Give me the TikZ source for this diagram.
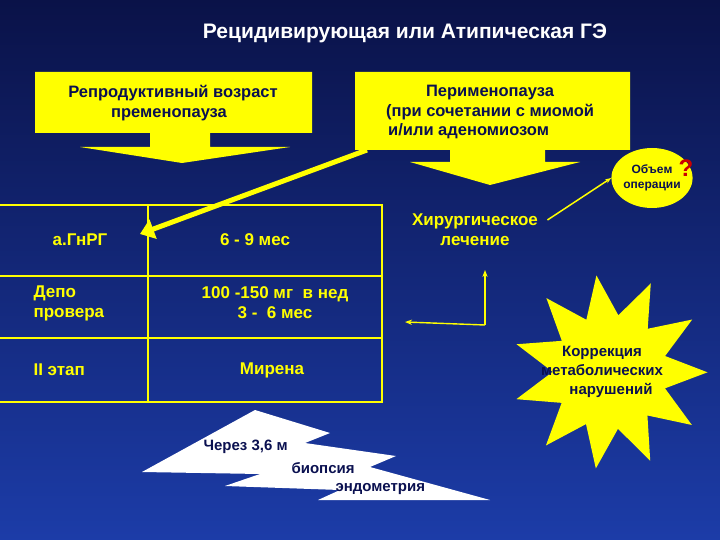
\documentclass[tikz,border=0pt]{standalone}
\usepackage{fontspec}
\setmainfont{Liberation Sans}
\usetikzlibrary{shapes.misc,shapes.geometric,arrows.meta}
\definecolor{ylw}{HTML}{FFFF00}
\definecolor{navy}{HTML}{0A1050}
\definecolor{bgtop}{HTML}{0A1248}
\definecolor{bgbot}{HTML}{1C3CA8}
\tikzset{
  yt/.style={text=ylw,font=\fontsize{17}{20}\selectfont\bfseries,align=center},
  yl/.style={text=ylw,font=\fontsize{17}{20}\selectfont\bfseries,align=left,anchor=west},
  dt/.style={text=navy,font=\fontsize{16.5}{19.5}\selectfont\bfseries,align=center},
  grid/.style={draw=ylw,line width=1.6pt},
  callout/.style={fill=ylw,draw=none}
}
\begin{document}
\begin{tikzpicture}[x=1pt,y=-1pt]
\useasboundingbox (0,0) rectangle (720,540);
\shade[top color=bgtop,bottom color=bgbot] (0,0) rectangle (720,540);
\node[text=white,font=\fontsize{21}{24}\selectfont\bfseries] (title) at (405,33) {Рецидивирующая или Атипическая ГЭ};
% left callout
\fill[callout] (35,72) -- (312,72) -- (312,133) -- (210,133) -- (210,147) -- (290,147) -- (182,163) -- (80,147) -- (150,147) -- (150,133) -- (35,133) -- cycle;
\node[dt,align=left] (repro) at (173,103) {Репродуктивный возраст\\\hspace*{2.6em}пременопауза};
% right callout
\fill[callout] (355,72) -- (630,72) -- (630,150) -- (545,150) -- (545,162) -- (580,162) -- (490,185) -- (410,162) -- (450,162) -- (450,150) -- (355,150) -- cycle;
\node[dt] (peri) at (490,112) {Перименопауза\\(при сочетании с миомой\\\hspace*{-2.6em}и/или аденомиозом};
% ellipse
\node[ellipse,fill=ylw,minimum width=78pt,minimum height=60pt,inner sep=0pt,
  text=navy,font=\fontsize{12}{15}\selectfont\bfseries,align=center] (obj) at (652,178) {Объем\\операции};
\node[text=red!80!black,font=\fontsize{24}{24}\selectfont\bfseries] (q) at (686,168) {?};
% table
\coordinate (t1) at (0,205); \coordinate (t1r) at (382,205);
\coordinate (t2) at (0,276); \coordinate (t2r) at (382,276);
\coordinate (t3) at (0,338); \coordinate (t3r) at (382,338);
\coordinate (t4) at (0,402); \coordinate (t4r) at (382,402);
\coordinate (v1) at (148,205); \coordinate (v1b) at (148,402);
\draw[grid] (t1) -- (t1r) -- (t4r) -- (t4);
\draw[grid] (t2) -- (t2r); \draw[grid] (t3) -- (t3r);
\draw[grid] (v1) -- (v1b);
\node[yt] (agn) at (80,240) {а.ГнРГ};
\node[yt] (m69) at (255,240) {6 - 9 мес};
\node[yl] (depo) at (30,303) {Депо\\провера};
\node[yt] (dose) at (275,303) {100 -150 мг\ \ в нед\\3 -\ \ 6 мес};
\node[yl] (ii) at (30,370) {II этап};
\node[yt] (mir) at (272,370) {Мирена};
% surgery
\node[yt] (surg) at (475,230) {Хирургическое\\лечение};
% big arrow
\coordinate (bs) at (367,150);
\draw[ylw,line width=5pt,-{Triangle[length=14pt,width=20pt]}] (bs) -- (140,234);
\draw[ylw,line width=1.5pt,-{Stealth[length=6pt]}] (surg.east) ++(6,-10) -- (obj.west);
% L arrows
\coordinate (corner) at (485,325);
\draw[ylw,line width=1.4pt,-{Stealth[length=7pt]}] (corner) -- (485,270);
\draw[ylw,line width=1.4pt,-{Stealth[length=7pt]}] (corner) -- (405,322);
% star
\node[star,star points=11,star point ratio=1.7,fill=ylw,minimum size=195pt,inner sep=0pt,rotate=8] (starS) at (610,372) {};
\node[dt,text=navy,font=\fontsize{15}{19}\selectfont\bfseries] (korr) at (602,372) {Коррекция\\метаболических\\\hspace*{1.2em}нарушений};
% lightning
\fill[white] (142,472) -- (255,410) -- (330,433) -- (305,443) -- (396,456) -- (370,467) -- (490,500) -- (318,500) -- (340,490) -- (225,486) -- (260,474) -- cycle;
\node[text=navy,font=\fontsize{15}{17}\selectfont\bfseries,anchor=west] (t1x) at (200,447) {Через 3,6 м};
\node[text=navy,font=\fontsize{15}{17}\selectfont\bfseries,anchor=west] (t2x) at (288,468) {биопсия};
\node[text=navy,font=\fontsize{15}{17}\selectfont\bfseries,anchor=west] (t3x) at (332,489) {эндометрия};
\end{tikzpicture}
\end{document}
